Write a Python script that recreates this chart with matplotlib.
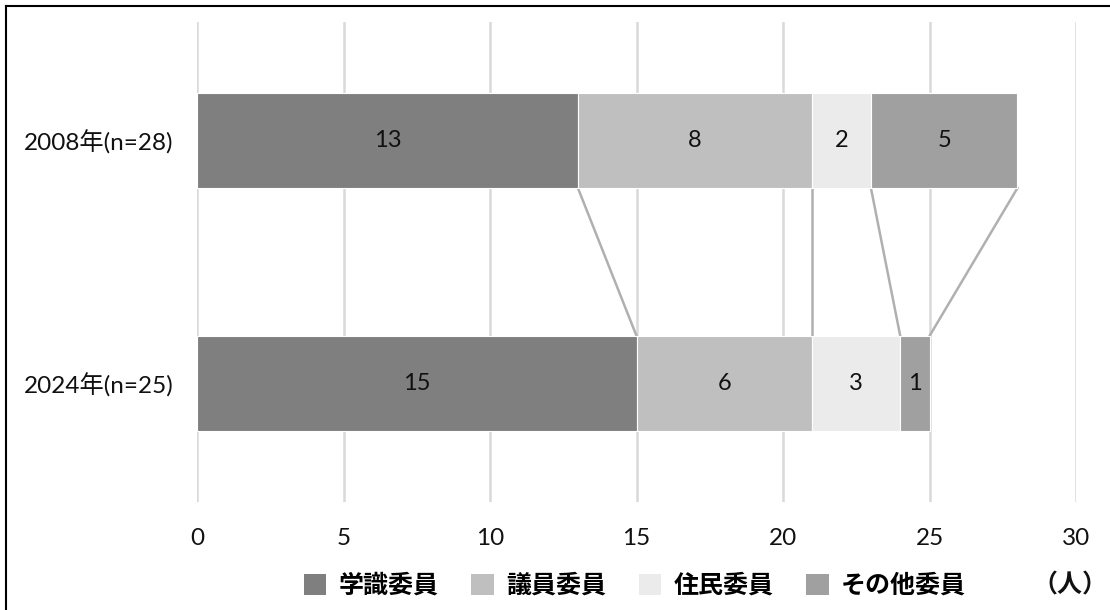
import numpy as np
import matplotlib.pyplot as plt
from matplotlib.lines import Line2D
from matplotlib.patches import Patch

plt.rcParams['font.family'] = ['Lato', 'Noto Sans CJK JP', 'DejaVu Sans']

years = ['2008年(n=28)', '2024年(n=25)']
series = ['学識委員', '議員委員', '住民委員', 'その他委員']
values = np.array([
    [13, 15],   # 学識委員
    [8, 6],     # 議員委員
    [2, 3],     # 住民委員
    [5, 1],     # その他委員
])
colors = ['#7f7f7f', '#bfbfbf', '#ebebeb', '#a0a0a0']

fig = plt.figure(figsize=(11.1, 6.1), dpi=100, facecolor='white')
ax = fig.add_axes([0.1775, 0.177, 0.7919, 0.787])

ypos = np.arange(len(years))
h = 0.39
left = np.zeros(len(years))
for i, name in enumerate(series):
    bars = ax.barh(ypos, values[i], height=h, left=left, color=colors[i],
                   edgecolor='white', linewidth=0.8, label=name, zorder=3)
    for y, l, v in zip(ypos, left, values[i]):
        ax.text(l + v / 2, y, str(v), ha='center', va='center',
                fontsize=17, color='#111111', zorder=4)
    left = left + values[i]

# series lines between the two bars
cum = np.cumsum(values, axis=0)
for row in cum:
    ax.plot([row[0], row[1]], [ypos[0] + h / 2, ypos[1] - h / 2],
            color='#b0b0b0', lw=1.8, zorder=2)

ax.set_xlim(0, 30)
ax.set_ylim(1.49, -0.49)
ax.set_xticks(range(0, 31, 5))
ax.set_yticks(ypos)
ax.set_yticklabels(years)
ax.tick_params(axis='both', length=0, labelsize=17.5, colors='#111111')
ax.tick_params(axis='x', pad=19)
ax.tick_params(axis='y', pad=17)
ax.grid(axis='x', color='#d9d9d9', lw=1.8, zorder=0)
ax.set_axisbelow(True)
for s in ax.spines.values():
    s.set_visible(False)

handles = [Patch(facecolor=c, edgecolor='none') for c in colors]
fig.legend(handles, series, loc='center', bbox_to_anchor=(0.572, 0.041),
           ncol=4, frameon=False, handlelength=0.9, handleheight=0.9,
           handletextpad=0.5, columnspacing=1.3,
           prop={'weight': 'bold', 'size': 18})
fig.text(0.964, 0.041, '（人）', ha='center', va='center', fontsize=18,
         fontweight='bold', color='#111111')

# outer frame (left and top edge visible)
fig.add_artist(Line2D([0.0055, 0.0055], [0, 0.99], color='black', lw=1.5))
fig.add_artist(Line2D([0.0055, 1.0], [0.99, 0.99], color='black', lw=1.5))

fig.savefig('out.png', dpi=100, facecolor='white')
